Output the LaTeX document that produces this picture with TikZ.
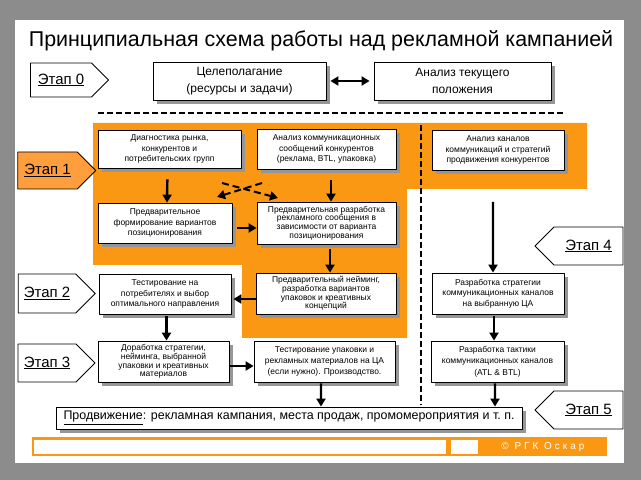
\documentclass[tikz,border=0pt]{standalone}
\usepackage{fontspec}
\setmainfont{Liberation Sans}
\newfontfamily\copyfont[LetterSpace=30]{Liberation Sans}
\usetikzlibrary{arrows.meta,shapes.symbols}
\definecolor{panelgray}{RGB}{140,140,140}
\definecolor{shadowgray}{RGB}{150,150,150}
\definecolor{campaignorange}{RGB}{250,152,20}
\definecolor{stageorange}{RGB}{255,158,60}
\pgfdeclarelayer{back}
\pgfdeclarelayer{shade}
\pgfsetlayers{back,shade,main}
\begin{document}
\begin{tikzpicture}[>={Triangle[length=8bp,width=9bp]},line join=bevel,
  box/.style={draw,fill=white,line width=0.8bp,inner sep=1bp,align=center,
    font=\fontsize{8.5}{10.5}\selectfont},
  tightbox/.style={box,font=\fontsize{8.5}{8.6}\selectfont},
  stage/.style={draw,fill=white,line width=0.8bp,signal,signal pointer angle=90,
    inner sep=0pt,font=\fontsize{15}{16}\selectfont},
  flow/.style={->,line width=2.4bp},
  crossflow/.style={->,line width=2bp,dash pattern=on 7bp off 4bp},
  separator/.style={line width=1.6bp,dash pattern=on 6bp off 3bp}]
%%
\begin{pgfonlayer}{back}
\fill [panelgray] (0bp,0bp) rectangle (641bp,480bp);
\fill [white] (15bp,17bp) rectangle (624bp,460bp);
\fill [campaignorange] (93bp,357bp) -- (587bp,357bp) -- (587bp,291bp) -- (407bp,291bp)
  -- (407bp,142bp) -- (242bp,142bp) -- (242bp,215bp) -- (93bp,215bp) -- cycle;
\end{pgfonlayer}
\useasboundingbox (0bp,0bp) rectangle (641bp,480bp);
\draw [separator] (98bp,367bp) -- (565bp,367bp);
\draw [separator] (421bp,355bp) -- (421bp,75bp);
%
\node (node_title) at (321bp,439bp) [font=\fontsize{21.5}{24}\selectfont] {Принципиальная схема работы над рекламной кампанией};
%
\node (node_stage0) at (61bp,400bp) [stage,minimum width=78bp,minimum height=34bp] {\underline{Этап 0}};
  \node (node_stage1) at (47.5bp,309.5bp) [stage,fill=stageorange,minimum width=78bp,minimum height=37bp] {\underline{Этап 1}};
  \node (node_stage2) at (47bp,186.5bp) [stage,minimum width=77bp,minimum height=39bp] {\underline{Этап 2}};
  \node (node_stage3) at (47bp,117bp) [stage,minimum width=77bp,minimum height=38bp] {\underline{Этап 3}};
  \node (node_stage4) at (588.5bp,234bp) [stage,signal to=west,minimum width=88bp,minimum height=38bp] {\underline{Этап 4}};
  \node (node_stage5) at (588.5bp,70bp) [stage,signal to=west,minimum width=88bp,minimum height=38bp] {\underline{Этап 5}};
%
\node (node_goal) at (239.5bp,399bp) [box,font=\fontsize{12}{17}\selectfont,minimum width=173bp,minimum height=38bp] {Целеполагание\\(ресурсы и задачи)};
  \node (node_current) at (462.5bp,399bp) [box,font=\fontsize{12}{17}\selectfont,minimum width=177bp,minimum height=38bp] {Анализ текущего\\положения};
  \draw [<->,line width=2.4bp,shorten <=4bp,shorten >=4bp] (node_goal) -- (node_current);
%
\node (node_market) at (169.5bp,331bp) [box,minimum width=143bp,minimum height=38bp] {Диагностика рынка,\\конкурентов и\\потребительских групп};
  \node (node_messages) at (326.5bp,331bp) [box,minimum width=139bp,minimum height=40bp] {Анализ коммуникационных\\сообщений конкурентов\\(реклама, BTL, упаковка)};
  \node (node_channels) at (498bp,330bp) [box,minimum width=132bp,minimum height=40bp] {Анализ каналов\\коммуникаций и стратегий\\продвижения конкурентов};
  \node (node_position) at (165bp,257bp) [box,minimum width=134bp,minimum height=40bp] {Предварительное\\формирование вариантов\\позиционирования};
  \node (node_message) at (326.5bp,257bp) [tightbox,minimum width=139bp,minimum height=42bp] {Предварительная разработка\\рекламного сообщения в\\зависимости от варианта\\позиционирования};
  \node (node_naming) at (326bp,186.5bp) [tightbox,minimum width=140bp,minimum height=41bp] {Предварительный нейминг,\\разработка вариантов\\упаковок и креативных\\концепций};
  \node (node_testing) at (165bp,186bp) [box,minimum width=132bp,minimum height=40bp] {Тестирование на\\потребителях и выбор\\оптимального направления};
  \node (node_strategy) at (498bp,186.5bp) [box,minimum width=132bp,minimum height=41bp] {Разработка стратегии\\коммуникационных каналов\\на выбранную ЦА};
  \node (node_refine) at (163.5bp,118.5bp) [tightbox,minimum width=131bp,minimum height=41bp] {Доработка стратегии,\\нейминга, выбранной\\упаковки и креативных\\материалов};
  \node (node_production) at (324.5bp,118.5bp) [box,font=\fontsize{8.5}{11.5}\selectfont,minimum width=141bp,minimum height=41bp] {Тестирование упаковки и\\рекламных материалов на ЦА\\(если нужно). Производство.};
  \node (node_tactics) at (497.5bp,118.5bp) [box,font=\fontsize{8.5}{11.5}\selectfont,minimum width=133bp,minimum height=41bp] {Разработка тактики\\коммуникационных каналов\\(ATL \& BTL)};
  \node (node_promo) at (289bp,62bp) [box,font=\fontsize{12.5}{14}\selectfont,minimum width=466bp,minimum height=22bp] {\underline{Продвижение}: рекламная кампания, места продаж, промомероприятия и т.~п.};
%
\begin{pgfonlayer}{shade}
\foreach \n in {node_goal,node_current,node_market,node_messages,node_channels,node_position,node_message,node_naming,node_testing,node_strategy,node_refine,node_production,node_tactics,node_promo}
  \fill [shadowgray] ([shift={(4bp,-4bp)}]\n.south west) rectangle ([shift={(4bp,-4bp)}]\n.north east);
\end{pgfonlayer}
%
\coordinate (cross_a) at (222bp,297bp);
  \coordinate (cross_b) at (278bp,282bp);
  \coordinate (cross_c) at (262bp,297bp);
  \coordinate (cross_d) at (217bp,283bp);
  \coordinate (channel_start) at (493bp,278bp);
%
\draw [flow,shorten <=11bp] ([xshift=-2bp]node_market.south) -- ([xshift=2bp]node_position.north);
  \draw [flow,shorten <=11bp] ([xshift=4.5bp]node_messages.south) -- ([xshift=4.5bp]node_message.north);
  \draw [crossflow] (cross_a) -- (cross_b);
  \draw [crossflow] (cross_c) -- (cross_d);
  \draw [flow,shorten <=5bp] ([yshift=-5bp]node_position.east) -- ([yshift=-5bp]node_message.west);
  \draw [flow,shorten <=5bp] ([xshift=3.5bp]node_message.south) -- ([xshift=4bp]node_naming.north);
  \draw [flow,shorten >=2bp] ([yshift=-5.5bp]node_naming.west) -- ([yshift=-5bp]node_testing.east);
  \draw [flow,shorten <=2bp] ([xshift=1.5bp]node_testing.south) -- ([xshift=3bp]node_refine.north);
  \draw [flow,shorten <=1bp] ([yshift=-4.5bp]node_refine.east) -- ([yshift=-4.5bp]node_production.west);
  \draw [flow,shorten <=1bp] ([xshift=-3.5bp]node_production.south) -- ([xshift=32bp]node_promo.north);
  \draw [flow] (channel_start) -- ([xshift=-5bp]node_strategy.north);
  \draw [flow,shorten <=2bp] ([xshift=-4bp]node_strategy.south) -- ([xshift=-3.5bp]node_tactics.north);
  \draw [flow,shorten <=1bp] ([xshift=-2.5bp]node_tactics.south) -- ([xshift=206bp]node_promo.north);
%
\fill [campaignorange] (32bp,43bp) rectangle (607bp,24bp);
\fill [white] (34bp,40bp) rectangle (446bp,26bp);
\fill [white] (451bp,40bp) rectangle (478bp,26bp);
\node (node_copy) at (543bp,33bp) [text=white,font=\copyfont\fontsize{10}{12}\selectfont] {© РГК Оскар};
%
\end{tikzpicture}
\end{document}
